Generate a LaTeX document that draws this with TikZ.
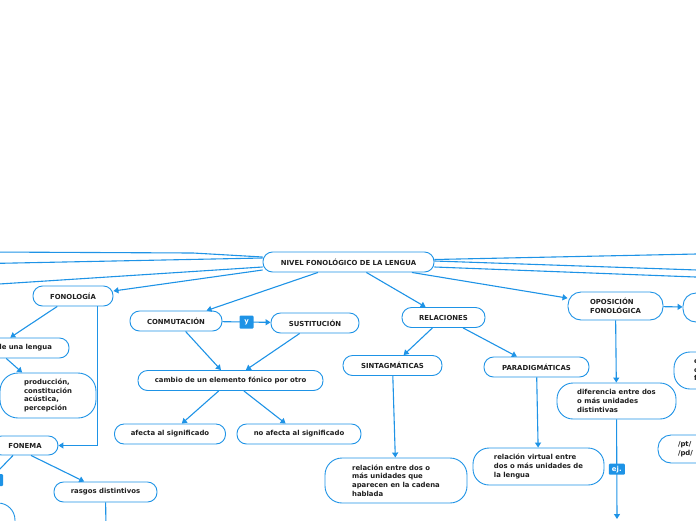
\documentclass[tikz,border=0pt]{standalone}
\usepackage{fontspec}
\setmainfont{DejaVu Sans}
\usetikzlibrary{arrows.meta,calc}
\definecolor{mblue}{HTML}{1E93E6}
\definecolor{mtext}{HTML}{1F1F1F}
\begin{document}
\begin{tikzpicture}[x=1pt,y=-1pt,
  every node/.style={font=\fontsize{6.9}{8.6}\selectfont\bfseries, text=mtext},
  box/.style={draw=mblue, line width=0.9pt, fill=white, rounded corners=9.5pt, inner sep=0pt, minimum height=20pt},
  con/.style={draw=mblue, line width=1.1pt},
  arr/.style={con, -{Triangle[length=5pt,width=6pt]}},
  lbl/.style={fill=mblue, text=white, rounded corners=1pt, inner sep=0pt, minimum width=14pt, minimum height=13pt}
]
\useasboundingbox (0,0) rectangle (696,520);
\clip (0,0) rectangle (696,520);

% nodes
\node[box, minimum width=171pt] (main) at (348.5,262) {NIVEL FONOLÓGICO DE LA LENGUA};
\node[box, minimum width=80pt] (fonologia) at (73,296) {FONOLOGÍA};
\node[box, minimum width=92pt] (conm) at (176,321) {CONMUTACIÓN};
\node[box, minimum width=88pt] (sust) at (315,323) {SUSTITUCIÓN};
\node[box, minimum width=185pt] (cambio) at (230.5,380.5) {cambio de un elemento fónico por otro};
\node[box, minimum width=111pt] (afecta) at (170,434) {afecta al significado};
\node[box, minimum width=124pt] (noafecta) at (299,434) {no afecta al significado};
\node[box, minimum width=83pt] (rel) at (443.5,317.5) {RELACIONES};
\node[box, minimum width=99pt] (sint) at (392.5,365.5) {SINTAGMÁTICAS};
\node[box, minimum width=105pt] (para) at (536.5,367) {PARADIGMÁTICAS};
\node[box, minimum width=142pt, minimum height=45pt, rounded corners=17pt, align=left] (sinttext) at (396,480.5)
  {relación entre dos o\\más unidades que\\aparecen en la cadena\\hablada};
\node[box, minimum width=131pt, minimum height=37pt, rounded corners=16pt, align=left] (paratext) at (538.5,466.5)
  {relación virtual entre\\dos o más unidades de\\la lengua};
\node[box, minimum width=95pt, minimum height=28pt, rounded corners=13pt, align=left] (opos) at (615.5,306)
  {OPOSICIÓN\\FONOLÓGICA};
\node[box, minimum width=80pt, minimum height=29pt, rounded corners=13pt] (r1) at (723,307.5) {};
\node[box, minimum width=119pt, minimum height=36pt, rounded corners=16pt, align=left] (dif) at (616.5,401)
  {diferencia entre dos\\o más unidades\\distintivas};
\node[box, minimum width=100pt, minimum height=37pt, rounded corners=16pt, text width=60pt, align=left] (ecf) at (724,370.5)
  {en\\con\\fon};
\node[box, minimum width=100pt, minimum height=28pt, rounded corners=13pt, text width=60pt, align=left] (pt) at (708,449)
  {/pt/\\/pd/};
\node[box, minimum width=149pt, text width=115pt, align=right] (lengua) at (-5.5,348) {de una lengua};
\node[box, minimum width=96pt, minimum height=45pt, rounded corners=18pt, align=left] (prod) at (48,395.5)
  {producción,\\constitución\\acústica,\\percepción};
\node[box, minimum width=66pt, minimum height=19pt] (fonema) at (25,445.5) {FONEMA};
\node[box, minimum width=103pt] (rasgos) at (105.5,492) {rasgos distintivos};
\node[box, minimum width=90pt, minimum height=44pt, rounded corners=17pt] (bl) at (-30,525) {};

% free ends
\coordinate (bendA) at (193,253);
\coordinate (la) at (-10,252);
\coordinate (lb) at (-10,263.5);
\coordinate (lc) at (-10,284.6);
\coordinate (ra) at (706,253.8);
\coordinate (rb) at (706,270.3);
\coordinate (rc) at (706,277.4);
\coordinate (fe) at (-30,500);
\coordinate (rd) at (106,530);
\coordinate (de) at (617,519);

% connectors from main
\draw[con] ([yshift=5pt]main.west) -- (bendA) -- (la);
\draw[con] ([yshift=4pt]main.west) -- (lb);
\draw[con] ([yshift=-5pt]main.west) -- (lc);
\draw[arr] ([yshift=-8pt]main.west) -- ([yshift=5pt]fonologia.east);
\draw[con] ([yshift=2.5pt]main.east) -- (ra);
\draw[con] ([yshift=1pt]main.east) -- (rb);
\draw[con] ([yshift=-5pt]main.east) -- (rc);
\draw[arr] (main) -- (conm);
\draw[arr] (main) -- (rel);
\draw[arr] (main) -- (opos);

% conmutacion branch
\draw[arr] (conm) -- node[lbl] (ylbl) {y} (sust);
\draw[arr] (conm) -- (cambio);
\draw[arr] (sust) -- (cambio);
\draw[arr] (cambio) -- (afecta);
\draw[arr] (cambio) -- (noafecta);

% relaciones branch
\draw[arr] (rel) -- (sint);
\draw[arr] (rel) -- (para);
\draw[arr] (sint) -- (sinttext);
\draw[arr] (para) -- (paratext);

% oposicion branch
\draw[arr] (opos) -- (r1);
\draw[arr] (opos) -- (dif);
\draw[arr] (dif) -- node[lbl, minimum width=16pt, minimum height=11pt] (ejlbl) {ej.} (de);

% fonologia branch
\draw[arr] (fonologia) -- (lengua);
\draw[arr] (lengua) -- (prod);
\draw[arr] ([xshift=-16pt]fonologia.south east) |- (fonema.east);
\draw[arr] ([xshift=6pt]fonema.south) -- (rasgos);
\draw[con] ([xshift=-12pt]fonema.south) -- (fe);
\node[lbl, minimum width=16pt, minimum height=12pt] (flbl) at (-5,480) {};
\draw[con] (rasgos) -- (rd);
\end{tikzpicture}
\end{document}
